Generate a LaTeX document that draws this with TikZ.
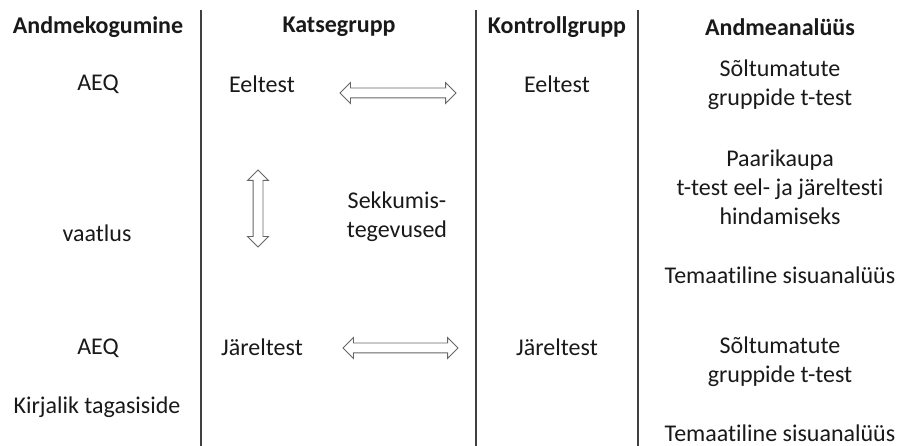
\documentclass[tikz,border=0pt]{standalone}
\usepackage{fontspec}
\setmainfont{Carlito}[Ligatures=NoCommon]
\usetikzlibrary{shapes.arrows}
\begin{document}
\begin{tikzpicture}[x=1pt,y=-1pt,
	txt/.style={text=black!90, align=center, inner sep=0pt, font=\fontsize{24}{29}\selectfont},
	hdr/.style={txt, font=\fontsize{24}{29}\selectfont\bfseries},
	sep/.style={black!75, line width=1.5pt},
	dblarrow/.style={double arrow, draw=black!60, fill=white, line width=0.9pt,
		inner sep=4.5pt, minimum width=20pt, double arrow head extend=5.5pt}]
%				\draw[step=50,help lines] (0,0) grid (900,446);
	\useasboundingbox (0,0) rectangle (900,446);
% column separators
				\foreach \x in {201,476,638}
				\draw [sep] (\x,10) -- (\x,446);
% headers
				\node[hdr] (hdrData) at (98,27) {Andmekogumine};
				\node[hdr] (hdrExp) at (339,27) {Katsegrupp};
				\node[hdr] (hdrCtrl) at (557,27) {Kontrollgrupp};
				\node[hdr] (hdrAnal) at (780,27) {Andmeanalüüs};
% first column
				\node[txt] (aeqPre) at (98,84) {AEQ};
				\node[txt] (vaatlus) at (97,233) {vaatlus};
				\node[txt] (aeqPost) at (98,348) {AEQ};
				\node[txt] (kirjalik) at (97,407) {Kirjalik tagasiside};
% experimental group
				\node[txt] (expPre) at (262,84) {Eeltest};
				\node[txt] (sekkumine) at (397,217) {Sekkumis-\\tegevused};
				\node[txt] (expPost) at (262,347) {Järeltest};
% control group
				\node[txt] (ctrlPre) at (557,84) {Eeltest};
				\node[txt] (ctrlPost) at (557,347) {Järeltest};
% data analysis
				\node[txt] (ttestPre) at (780,85) {Sõltumatute\\gruppide t-test};
				\node[txt] (paired) at (780,187) {Paarikaupa\\t-test eel- ja järeltesti\\hindamiseks};
				\node[txt] (themeA) at (780,275) {Temaatiline sisuanalüüs};
				\node[txt] (ttestPost) at (780,362) {Sõltumatute\\gruppide t-test};
				\node[txt] (themeB) at (780,433) {Temaatiline sisuanalüüs};
% arrows
				\node[dblarrow, minimum height=116pt] (arrPre) at (398,93) {};
				\node[dblarrow, minimum height=77pt, rotate=90] (arrMid) at (258,208.5) {};
				\node[dblarrow, minimum height=115pt] (arrPost) at (400.5,348) {};
\end{tikzpicture}
\end{document}
